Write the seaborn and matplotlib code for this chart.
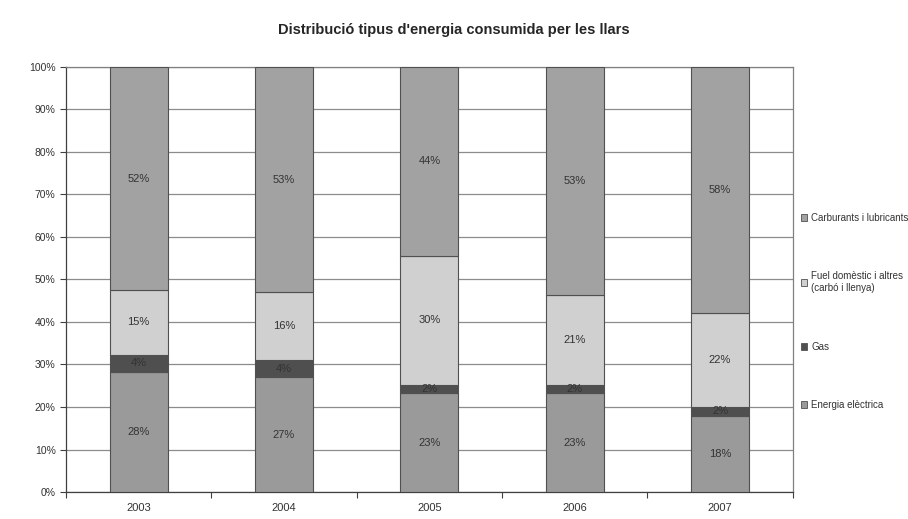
import numpy as np
import pandas as pd
import seaborn as sns
import matplotlib.pyplot as plt
from matplotlib.patches import Patch
from matplotlib.ticker import PercentFormatter, FixedLocator

years = ["2003", "2004", "2005", "2006", "2007"]
energia_electrica = [28, 27, 23, 23, 18]
gas = [4, 4, 2, 2, 2]
fuel_domestic = [15, 16, 30, 21, 22]
carburants = [52, 53, 44, 53, 58]

series = ["Energia elèctrica", "Gas", "Fuel domèstic i altres\n(carbó i llenya)",
          "Carburants i lubricants"]
colors = ["#9a9a9a", "#4f4f4f", "#d0d0d0", "#a2a2a2"]

sns.set_style("white")
plt.rcParams["font.family"] = ["Liberation Sans", "DejaVu Sans"]

df = pd.DataFrame({"year": years,
                   series[0]: energia_electrica,
                   series[1]: gas,
                   series[2]: fuel_domestic,
                   series[3]: carburants})
vals = df[series].to_numpy(dtype=float)
shares = vals / vals.sum(axis=1, keepdims=True)

fig = plt.figure(figsize=(9.08, 5.19), dpi=100)
ax = fig.add_axes([0.0727, 0.052, 0.8003, 0.819])

bottom = np.zeros(len(years))
for i, s in enumerate(series):
    sns.barplot(x=df["year"], y=shares[:, i], bottom=bottom, color=colors[i],
                width=0.4, edgecolor="#505050", linewidth=0.8, saturation=1, ax=ax,
                zorder=3)
    bottom = bottom + shares[:, i]

for i, cont in enumerate(ax.containers):
    ax.bar_label(cont, labels=[f"{v:.0f}%" for v in vals[:, i]], label_type="center",
                 fontsize=8, color="#333333")

ax.set_ylim(0, 1)
ax.set_xlim(-0.5, 4.5)
ax.yaxis.set_major_locator(FixedLocator(np.arange(0, 1.01, 0.1)))
ax.yaxis.set_major_formatter(PercentFormatter(1.0, decimals=0))
ax.grid(axis="y", color="#8c8c8c", linewidth=0.9, zorder=0)
ax.set_axisbelow(True)
for sp in ax.spines.values():
    sp.set_color("#808080")
    sp.set_linewidth(0.9)
ax.spines["left"].set_color("#404040")
ax.spines["bottom"].set_color("#404040")
ax.tick_params(axis="y", length=4, width=0.8, color="#404040", labelsize=7.5,
               labelcolor="#333333", direction="out", left=True)
ax.tick_params(axis="x", length=0, labelsize=8, labelcolor="#333333", pad=8)
ax.set_xticks(np.arange(-0.5, 4.6, 1), minor=True)
ax.tick_params(axis="x", which="minor", length=4, width=0.8, color="#404040",
               direction="out", bottom=True)
ax.set_xlabel("")
ax.set_ylabel("")

fig.suptitle("Distribució tipus d'energia consumida per les llars", y=0.955,
             fontsize=10.5, fontweight="bold")

handles = [Patch(facecolor=colors[i], edgecolor="#505050", linewidth=0.6)
           for i in range(len(series))][::-1]
fig.legend(handles, series[::-1], loc="center left", bbox_to_anchor=(0.872, 0.4),
           frameon=False, fontsize=7, labelspacing=5.0, handlelength=0.7,
           handleheight=0.7, handletextpad=0.4, labelcolor="#333333")

fig.savefig("out.png", dpi=100)
